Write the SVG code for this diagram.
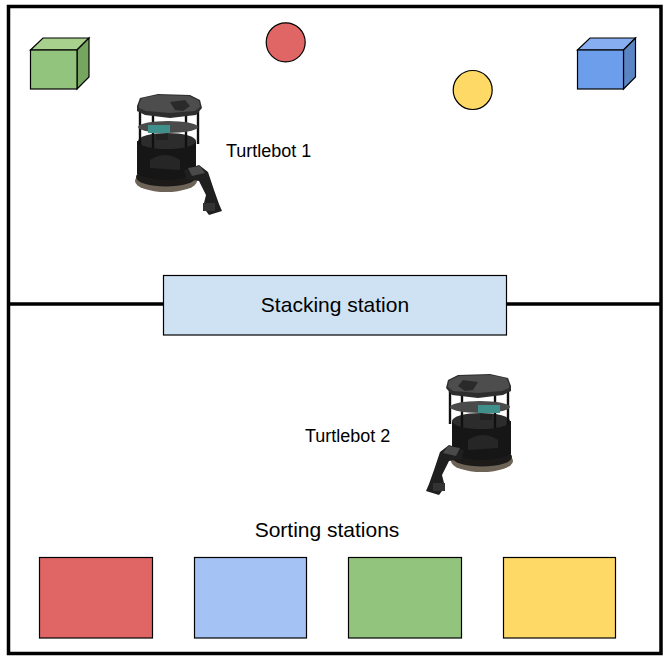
<svg xmlns="http://www.w3.org/2000/svg" xmlns:xlink="http://www.w3.org/1999/xlink" width="672" height="668" viewBox="0 0 672 668">
<style>
.lbl{font-family:"Liberation Sans",Arial,sans-serif;fill:#000}
.thin{stroke:#000;stroke-width:1.2}
.wall{fill:none;stroke:#000;stroke-width:3.5}
</style>
<defs>
<g id="turtlebot">
  <ellipse cx="166" cy="181" rx="31" ry="11" fill="#6e6357"/>
  <ellipse cx="166" cy="177" rx="30" ry="9.5" fill="#1d1b19"/>
  <path d="M137 141 L137 174 Q166 186 196 174 L196 141 Z" fill="#161616"/>
  <ellipse cx="167" cy="141" rx="29" ry="8" fill="#2c2c2c"/>
  <path d="M150 160 Q165 150 180 160 L180 170 L150 168 Z" fill="#262626"/>
  <g stroke="#101010" stroke-width="2.4">
    <line x1="140" y1="108" x2="140" y2="145"/>
    <line x1="153" y1="112" x2="153" y2="148"/>
    <line x1="186" y1="112" x2="186" y2="147"/>
    <line x1="198" y1="106" x2="198" y2="144"/>
  </g>
  <ellipse cx="168" cy="127" rx="30" ry="6" fill="#4a4a4a"/>
  <rect x="148" y="125" width="22" height="8" fill="#3f8f8a"/>
  <rect x="156" y="134" width="12" height="6" fill="#222"/>
  <path d="M137 106 L140 98 L158 94 L190 95 L200 100 L202 108 L196 115 L170 118 L145 115 L137 111 Z" fill="#2e2e2e"/>
  <path d="M139 104 L142 98 L158 95 L189 96 L199 101 L200 107 L195 111 L170 113 L146 111 L139 108 Z" fill="#4d4d4d"/>
  <path d="M170 102 L185 100 L190 106 L183 111 L175 110 Z" fill="#2a2a2a"/>
  <path d="M184 170 L199 165 L208 172 L214 190 L219 204 L222 211 L209 215 L203 207 L206 195 L199 181 L186 179 Z" fill="#1f1f1f"/>
  <path d="M188 168 L200 166 L205 173 L192 176 Z" fill="#4a4a4a"/>
  <rect x="203" y="203" width="12" height="8" fill="#333"/>
</g>
</defs>

<g id="room">
  <rect class="wall" x="8.5" y="6.5" width="652.5" height="647"/>
  <line class="wall" x1="8.5" y1="304" x2="163.5" y2="304"/>
  <line class="wall" x1="506.5" y1="304" x2="661" y2="304"/>
</g>

<g id="stacking-station">
  <rect class="thin" x="163.5" y="275.5" width="343" height="59.5" fill="#cfe2f3"/>
  <text class="lbl" x="335" y="312" font-size="21" text-anchor="middle">Stacking station</text>
</g>

<g id="green-cube">
  <polygon class="thin" points="30.5,50 43,38 89,38 77,50" fill="#a9d18e"/>
  <polygon class="thin" points="77,50 89,38 89,77 77,89" fill="#76a55f"/>
  <rect class="thin" x="30.5" y="50" width="46.5" height="39" fill="#93c47d"/>
</g>

<g id="blue-cube">
  <polygon class="thin" points="577.5,50 590,38 635.5,38 623.5,50" fill="#86aef0"/>
  <polygon class="thin" points="623.5,50 635.5,38 635.5,77 623.5,89" fill="#5b84c4"/>
  <rect class="thin" x="577.5" y="50" width="46" height="39" fill="#6d9eeb"/>
</g>

<g id="red-ball">
  <circle class="thin" cx="285.7" cy="42.3" r="19.5" fill="#e06666"/>
</g>
<g id="yellow-ball">
  <circle class="thin" cx="472.7" cy="90" r="19.5" fill="#ffd966"/>
</g>

<g id="turtlebot-1">
  <use xlink:href="#turtlebot" href="#turtlebot"/>
  <text class="lbl" x="226" y="157" font-size="18">Turtlebot 1</text>
</g>

<g id="turtlebot-2">
  <use xlink:href="#turtlebot" href="#turtlebot" transform="translate(648,280) scale(-1,1)"/>
  <text class="lbl" x="305" y="442" font-size="18">Turtlebot 2</text>
</g>

<g id="sorting-stations">
  <text class="lbl" x="327" y="537" font-size="21" text-anchor="middle">Sorting stations</text>
  <rect class="thin" x="39.5" y="557.5" width="113" height="80.5" fill="#e06666"/>
  <rect class="thin" x="194.5" y="557.5" width="112" height="80.5" fill="#a4c2f4"/>
  <rect class="thin" x="348.5" y="557.5" width="113" height="80.5" fill="#93c47d"/>
  <rect class="thin" x="503.5" y="557.5" width="112" height="80.5" fill="#ffd966"/>
</g>
</svg>
